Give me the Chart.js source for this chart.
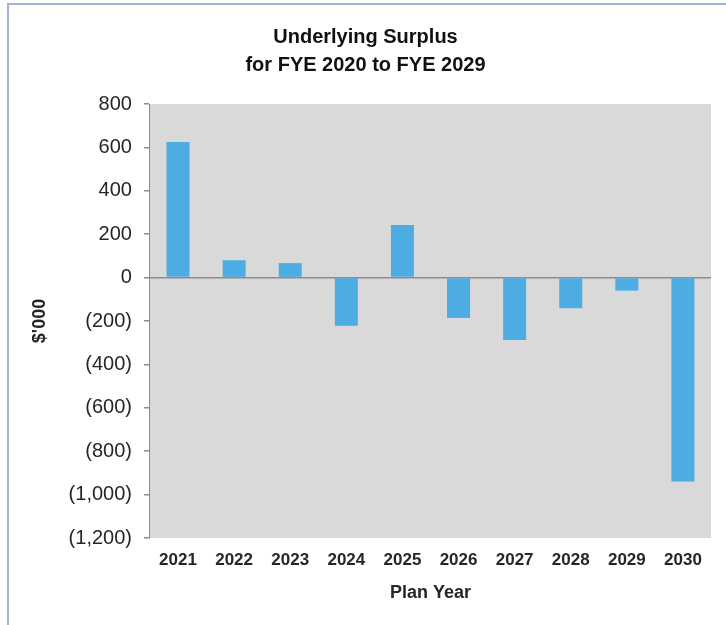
<!DOCTYPE html>
<html>
<head>
<meta charset="utf-8">
<script src="https://cdn.jsdelivr.net/npm/chart.js@4.4.1/dist/chart.umd.min.js"></script>
<style>
  body { margin: 0; background: #fff; }
  #frame {
    position: absolute; left: 7px; top: 3px; width: 719px; height: 622px;
    border-top: 2px solid #9fb3de; border-left: 2px solid #9fb3de;
    box-sizing: border-box;
  }
  #wrap { position: absolute; left: 3px; top: 3px; right: 0; bottom: 0; }
</style>
</head>
<body>
<div id="frame"><div id="wrap"><canvas id="surplusChart"></canvas></div></div>
<script>
// values in $'000
const planYears = ['2021', '2022', '2023', '2024', '2025', '2026', '2027', '2028', '2029', '2030'];
const surplus = [625, 80, 67, -222, 242, -186, -288, -141, -60, -940];
const yTicks = [800, 600, 400, 200, 0, -200, -400, -600, -800, -1000, -1200];

const fmt = v => {
  const s = Math.abs(v).toLocaleString('en-US');
  return v < 0 ? '(' + s + ')' : s;
};

// grey plot background like the Excel chart
const plotBg = {
  id: 'plotBg',
  beforeDraw(chart) {
    const { ctx, chartArea: a } = chart;
    ctx.save();
    ctx.fillStyle = '#d9d9d9';
    ctx.fillRect(a.left, a.top, a.right - a.left, a.bottom - a.top);
    ctx.restore();
  }
};

const ctx = document.getElementById('surplusChart');
new Chart(ctx, {
  type: 'bar',
  data: {
    labels: planYears,
    datasets: [{
      label: 'Underlying Surplus',
      data: surplus,
      backgroundColor: '#4dade2',
      categoryPercentage: 1,
      barPercentage: 0.41,
    }],
  },
  options: {
    responsive: true,
    maintainAspectRatio: false,
    animation: false,
    layout: { padding: { left: 8, right: 15, top: 15, bottom: 21 } },
    plugins: {
      legend: { display: false },
      tooltip: { enabled: false },
      title: {
        display: true,
        text: ['Underlying Surplus', 'for FYE 2020 to FYE 2029'],
        color: '#111',
        font: { family: 'Liberation Sans, Arial', size: 20, weight: 'bold', lineHeight: 1.4 },
        padding: { top: 0, bottom: 25 },
      },
    },
    scales: {
      x: {
        border: { display: false },
        grid: { display: false },
        ticks: {
          color: '#262626',
          font: { family: 'Liberation Sans, Arial', size: 17, weight: 'bold' },
          padding: 4,
        },
        title: {
          display: true,
          text: 'Plan Year',
          color: '#262626',
          font: { family: 'Liberation Sans, Arial', size: 18, weight: 'bold' },
          padding: { top: 8, bottom: 0 },
        },
      },
      y: {
        min: -1200,
        max: 800,
        afterBuildTicks: axis => { axis.ticks = yTicks.map(v => ({ value: v })); },
        border: { display: true, color: '#8c8c8c', width: 1 },
        grid: {
          color: c => (c.tick && c.tick.value === 0 ? '#8c8c8c' : 'rgba(0,0,0,0)'),
          lineWidth: 1.5,
          tickColor: '#8c8c8c',
          tickLength: 6,
        },
        ticks: {
          color: '#262626',
          font: { family: 'Liberation Sans, Arial', size: 20 },
          padding: 12,
          callback: v => fmt(v),
        },
        title: {
          display: true,
          text: "$'000",
          color: '#262626',
          font: { family: 'Liberation Sans, Arial', size: 18, weight: 'bold' },
          padding: { top: 9, bottom: 6 },
        },
      },
    },
  },
  plugins: [plotBg],
});
</script>
</body>
</html>
